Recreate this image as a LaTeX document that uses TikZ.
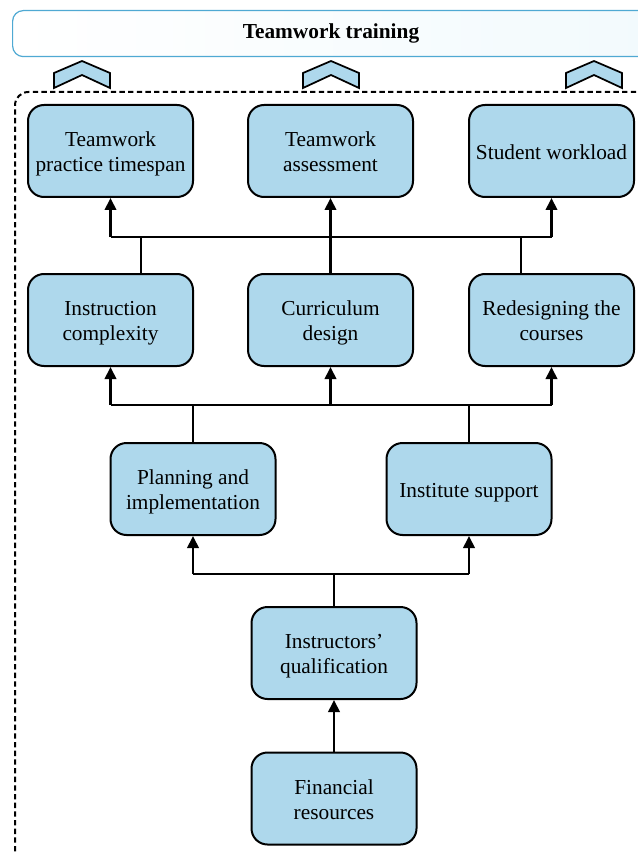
\documentclass[tikz,border=0pt]{standalone}
\usepackage{fontspec}
\setmainfont{Liberation Serif}
\usetikzlibrary{arrows.meta}
\definecolor{boxblue}{HTML}{AED8EC}
\definecolor{titleedge}{HTML}{4FA9D3}
\definecolor{titlefill}{HTML}{F2FAFD}
\newcommand\ftxt[1]{\raisebox{-2.4pt}[\height][\depth]{\begin{tabular}{@{}c@{}}#1\end{tabular}}}
\begin{document}
\begin{tikzpicture}[x=0.75pt,y=-0.75pt,
  factor/.style={draw=black, line width=1.5pt, fill=boxblue, rounded corners=12pt,
    minimum width=165*0.75pt, minimum height=92*0.75pt,
    font=\fontsize{16}{18.7}\selectfont, inner sep=0pt},
  link/.style={line width=2pt, draw=black},
  arr/.style={link, -{Triangle[length=9pt,width=8.5pt]}},
  chev/.style={draw=black, line width=1.3pt, fill=boxblue, line join=miter}]
\useasboundingbox (0,0) rectangle (638,852);
\begin{scope}
\clip (0,0) rectangle (638,852);
% title
\node[draw=titleedge, line width=0.9pt, rounded corners=8pt,
  left color=white, right color=titlefill, minimum height=46*0.75pt, inner sep=0pt,
  minimum width=640*0.75pt, anchor=north west] (title) at (12,10) {};
\node[font=\bfseries\fontsize{16}{18}\selectfont] (titletext) at (331,33) {Teamwork training};
% dashed frame
\draw[line width=1.5pt, dash pattern=on 4pt off 2.5pt, rounded corners=10pt]
  (15,860) -- (15,92) -- (680,92);
\end{scope}
% chevrons
\foreach \c in {82,331,594}{
  \draw[chev] (\c-28,73) -- (\c,61) -- (\c+28,73) -- (\c+28,88) -- (\c,75) -- (\c-28,88) -- cycle;
}
% row 1
\node[factor] (tp) at (110.5,151) {\ftxt{Teamwork\\practice timespan}};
\node[factor] (ta) at (330.5,151) {\ftxt{Teamwork\\assessment}};
\node[factor] (sw) at (551.5,151) {\ftxt{Student workload}};
% row 2
\node[factor] (ic) at (110.5,320) {\ftxt{Instruction\\complexity}};
\node[factor] (cd) at (330.5,320) {\ftxt{Curriculum\\design}};
\node[factor] (rc) at (551.5,320) {\ftxt{Redesigning the\\courses}};
% row 3
\node[factor] (pi) at (193,489) {\ftxt{Planning and\\implementation}};
\node[factor] (is) at (469,489) {\ftxt{Institute support}};
% row 4
\node[factor] (iq) at (334,653) {\ftxt{Instructors'\\qualification}};
% row 5
\node[factor] (fr) at (334,798.5) {\ftxt{Financial\\resources}};
% bus coordinates
\coordinate (b1) at (0,237);
\coordinate (b2) at (0,405);
\coordinate (b3) at (0,574);
% row2 -> row1
\draw[link] (tp.south |- b1) -- (sw.south |- b1);
\draw[arr] (tp.south |- b1) -- (tp.south);
\draw[arr] (sw.south |- b1) -- (sw.south);
\draw[arr] (cd.north) -- (ta.south);
\draw[link] (ic.north -| 141,0) -- (141,237);
\draw[link] (rc.north -| 521,0) -- (521,237);
% row3 -> row2
\draw[link] (ic.south |- b2) -- (rc.south |- b2);
\draw[arr] (ic.south |- b2) -- (ic.south);
\draw[arr] (cd.south |- b2) -- (cd.south);
\draw[arr] (rc.south |- b2) -- (rc.south);
\draw[link] (pi.north) -- (pi.north |- b2);
\draw[link] (is.north) -- (is.north |- b2);
% row4 -> row3
\draw[link] (pi.south |- b3) -- (is.south |- b3);
\draw[arr] (pi.south |- b3) -- (pi.south);
\draw[arr] (is.south |- b3) -- (is.south);
\draw[link] (iq.north) -- (iq.north |- b3);
% row5 -> row4
\draw[arr] (fr.north) -- (iq.south);
\end{tikzpicture}
\end{document}
